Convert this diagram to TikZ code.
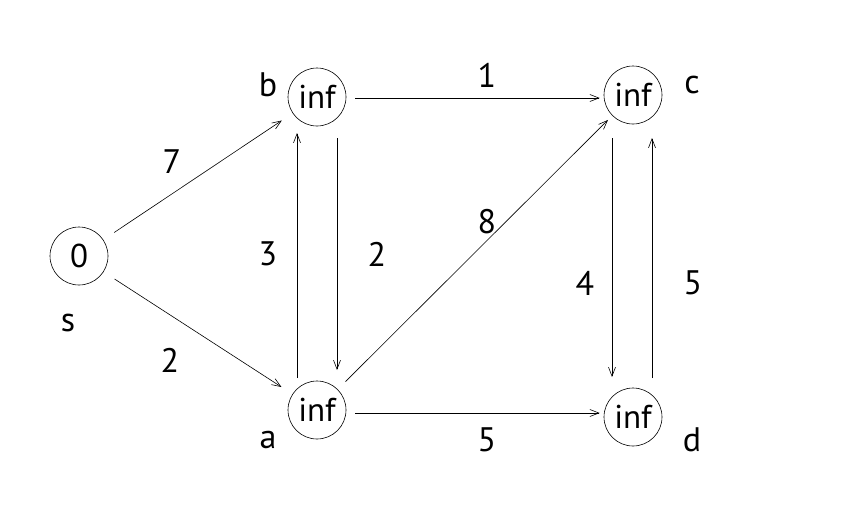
\documentclass[tikz,border=0pt]{standalone}
\usepackage{fontspec}
\setmainfont{PT Sans}
\usetikzlibrary{arrows.meta}
\begin{document}
\begin{tikzpicture}[x=1pt,y=-1pt,
  vert/.style={circle,draw,line width=0.6pt,minimum size=58pt,inner sep=0pt,font=\fontsize{33}{35}\selectfont},
  lab/.style={font=\fontsize{34}{36}\selectfont},
  edge/.style={draw,line width=0.6pt,-{Straight Barb[length=9pt,width=7pt]}}]
\useasboundingbox (0,0) rectangle (866,522);
\node[vert] (s) at (79,256) {0};
\node[vert] (b) at (317,97) {inf};
\node[vert] (c) at (633,95) {inf};
\node[vert] (a) at (317,410) {inf};
\node[vert] (d) at (633,417) {inf};
\node[lab] at (268,85) {b};
\node[lab] at (692,85) {c};
\node[lab] at (68,323) {s};
\node[lab] at (268,440) {a};
\node[lab] at (692,440) {d};
\draw[edge,shorten <=13pt,shorten >=13pt] (s) -- (b);
\draw[edge,shorten <=13pt,shorten >=13pt] (s) -- (a);
\draw[edge,shorten <=9pt,shorten >=4pt] ([yshift=-1pt]b.east) -- ([yshift=-3pt]c.west);
\draw[edge,shorten <=41pt,shorten >=40pt] ([xshift=20pt]b.center) -- ([xshift=20pt]a.center);
\draw[edge,shorten <=32pt,shorten >=36pt] ([xshift=-20pt]a.center) -- ([xshift=-20pt]b.center);
\draw[edge,shorten <=11pt,shorten >=6pt] (a) -- (c);
\draw[edge,shorten <=43pt,shorten >=40pt] ([xshift=-21pt]c.center) -- ([xshift=-21pt]d.center);
\draw[edge,shorten <=39pt,shorten >=43pt] ([xshift=19pt]d.center) -- ([xshift=19pt]c.center);
\draw[edge,shorten <=9pt,shorten >=4pt] ([yshift=-3pt]a.east) -- ([yshift=4pt]d.west);
\node[lab] at (172,162) {7};
\node[lab] at (170,360) {2};
\node[lab] at (487,75) {1};
\node[lab] at (268,254) {3};
\node[lab] at (377,254) {2};
\node[lab] at (487,222) {8};
\node[lab] at (585,283) {4};
\node[lab] at (693,283) {5};
\node[lab] at (487,440) {5};
\end{tikzpicture}
\end{document}
